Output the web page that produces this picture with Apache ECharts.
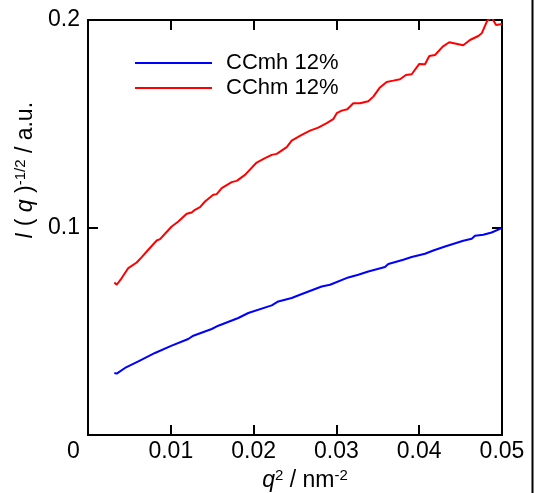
<!DOCTYPE html>
<html>
<head>
<meta charset="utf-8">
<script src="https://cdn.jsdelivr.net/npm/echarts@6/dist/echarts.min.js"></script>
<style>
    html, body { margin: 0; padding: 0; background: #fff; }
    #main { width: 539px; height: 493px; }
</style>
</head>
<body>
<div id="main"></div>
<script>
// 数据 (q^2, I(q)^-1/2)
var seriesNames = ['CCmh 12%', 'CChm 12%'];
var xTicks = [0, 0.01, 0.02, 0.03, 0.04, 0.05];
var yTicks = [0, 0.1, 0.2];
var cmhData = [
    [0.00318, 0.0299], [0.00347, 0.02956], [0.00447, 0.03231], [0.00608, 0.03548],
    [0.00809, 0.03953], [0.01011, 0.04304], [0.01211, 0.04627], [0.01272, 0.04786],
    [0.01494, 0.05108], [0.01574, 0.05267], [0.01815, 0.05638], [0.01936, 0.05879],
    [0.02219, 0.06245], [0.02298, 0.06437], [0.0246, 0.06601], [0.0256, 0.0676],
    [0.02822, 0.07159], [0.02923, 0.07241], [0.03144, 0.07593], [0.03264, 0.07723],
    [0.03385, 0.07881], [0.03587, 0.08093], [0.03627, 0.08238], [0.03808, 0.08445],
    [0.03909, 0.08575], [0.0407, 0.08734], [0.0417, 0.08893], [0.04312, 0.09085],
    [0.04532, 0.0936], [0.04634, 0.09456], [0.04674, 0.096], [0.04774, 0.09648],
    [0.04875, 0.09759], [0.04996, 0.09971]
];
var chmData = [
    [0.00318, 0.07352], [0.00347, 0.07241], [0.00407, 0.07564], [0.00487, 0.08045],
    [0.00588, 0.08315], [0.00649, 0.08575], [0.00728, 0.08926], [0.0083, 0.09374],
    [0.0087, 0.09441], [0.0093, 0.09697], [0.01011, 0.10048], [0.01091, 0.10289],
    [0.01192, 0.1066], [0.01252, 0.10722], [0.01292, 0.10852], [0.01353, 0.10982],
    [0.01413, 0.11252], [0.01513, 0.11574], [0.01554, 0.11608], [0.01615, 0.11897],
    [0.01735, 0.12186], [0.01796, 0.12248], [0.01896, 0.12537], [0.02037, 0.1313],
    [0.02138, 0.13341], [0.02219, 0.135], [0.02279, 0.13548], [0.024, 0.13871],
    [0.0246, 0.14189], [0.02581, 0.14463], [0.02681, 0.1467], [0.02781, 0.14815],
    [0.02883, 0.15026], [0.02962, 0.15219], [0.03004, 0.15508], [0.03064, 0.15633],
    [0.03132, 0.157], [0.03204, 0.15989], [0.03285, 0.15989], [0.03385, 0.16086],
    [0.03446, 0.16307], [0.03526, 0.1675], [0.03607, 0.17015], [0.03687, 0.17078],
    [0.03768, 0.17145], [0.0384, 0.17352], [0.03909, 0.17386], [0.04001, 0.17882],
    [0.0407, 0.17867], [0.04122, 0.18267], [0.04191, 0.18315], [0.04284, 0.18714],
    [0.04363, 0.18926], [0.04532, 0.18782], [0.04613, 0.19037], [0.04714, 0.1923],
    [0.04755, 0.19359], [0.04822, 0.19966], [0.04875, 0.2013], [0.04928, 0.19759],
    [0.04984, 0.19793], [0.05, 0.19793]
];

var FONT = 'Liberation Sans, Arial, sans-serif';
var chart = echarts.init(document.getElementById('main'));

// 四边框的公共设置
function frameAxis(pos, ticks, showLabel) {
    return {
        type: 'value',
        position: pos,
        min: ticks[0],
        max: ticks[ticks.length - 1],
        interval: ticks[1] - ticks[0],
        axisLine: { show: true, onZero: false, lineStyle: { color: '#000', width: 2 } },
        axisTick: { show: true, inside: true, length: 10, lineStyle: { color: '#000', width: 2 } },
        splitLine: { show: false },
        axisLabel: {
            show: showLabel,
            color: '#000',
            fontSize: 23,
            fontFamily: FONT,
            showMinLabel: true,
            formatter: function (v) { return v === 0 ? '' : String(+v.toFixed(3)); }
        }
    };
}

var titleRich = {
    i: { fontSize: 23, fontStyle: 'italic', fontFamily: FONT, color: '#000' },
    sup: { fontSize: 15, verticalAlign: 'top', padding: [0, 0, 10, 0], fontFamily: FONT, color: '#000' }
};

var xBottom = frameAxis('bottom', xTicks, true);
xBottom.axisLabel.margin = 5;
xBottom.name = '{i|q}{sup|2} / nm{sup|-2}';
xBottom.nameLocation = 'middle';
xBottom.nameGap = 31;
xBottom.nameTextStyle = { color: '#000', fontSize: 23, fontFamily: FONT, padding: [0, 0, 0, 20], rich: titleRich };
var xTop = frameAxis('top', xTicks, false);

var yLeft = frameAxis('left', yTicks, true);
yLeft.axisLabel.margin = 8;
yLeft.axisLabel.padding = [4, 0, 0, 0];
yLeft.name = '{i|I} ( {i|q} ){sup|-1/2} / a.u.';
yLeft.nameLocation = 'middle';
yLeft.nameRotate = 90;
yLeft.nameGap = 50;
// 标题整体偏上
yLeft.nameTextStyle = { color: '#000', fontSize: 23, fontFamily: FONT, padding: [0, 0, 0, 114], rich: titleRich };
var yRight = frameAxis('right', yTicks, false);

var option = {
    animation: false,
    backgroundColor: '#fff',
    grid: { left: 88, top: 20, width: 414, height: 415, outerBoundsMode: 'none' },
    legend: {
        orient: 'vertical',
        left: 135,
        top: 52,
        padding: 0,
        icon: 'rect',
        itemWidth: 77,
        itemHeight: 2,
        itemGap: 3,
        textStyle: { color: '#000', fontSize: 22, fontFamily: FONT, padding: [0, 0, 0, 9] },
        data: seriesNames
    },
    xAxis: [xBottom, xTop],
    yAxis: [yLeft, yRight],
    series: [
        {
            name: seriesNames[0], type: 'line', data: cmhData, symbol: 'none',
            lineStyle: { color: '#0000ff', width: 2 }, itemStyle: { color: '#0000ff' }
        },
        {
            name: seriesNames[1], type: 'line', data: chmData, symbol: 'none',
            lineStyle: { color: '#ff0000', width: 2 }, itemStyle: { color: '#ff0000' }
        }
    ],
    graphic: [
        // 左下角的 0
        { type: 'text', left: 67, top: 440, style: { text: '0', fontSize: 23, fontFamily: FONT, fill: '#000' } },
        // 右侧相邻图的边线
        { type: 'line', shape: { x1: 532.5, y1: 0, x2: 532.5, y2: 493 }, style: { stroke: '#000', lineWidth: 2 } }
    ]
};
chart.setOption(option);
</script>
</body>
</html>
